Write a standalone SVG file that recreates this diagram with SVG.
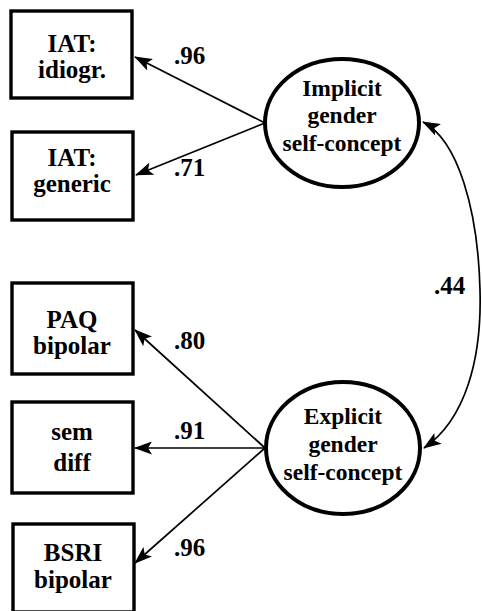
<svg xmlns="http://www.w3.org/2000/svg" width="482" height="611" viewBox="0 0 482 611">
<style>
.box{fill:#fff;stroke:#000;stroke-width:3.4}
.lat{fill:#fff;stroke:#000;stroke-width:4}
text{font-family:"Liberation Serif","Times New Roman",Times,serif;font-weight:bold;fill:#000;text-anchor:middle}
.bt{font-size:25px}
.et{font-size:23.5px}
.lb{font-size:25px;text-anchor:start}
.con{fill:none;stroke:#000;stroke-width:1.7}
</style>
<defs>
<marker id="ah" viewBox="0 0 18 13" refX="17" refY="6.5" markerWidth="18" markerHeight="13" markerUnits="userSpaceOnUse" orient="auto">
<path d="M0,0 L18,6.5 L0,13 L4,6.5 Z" fill="#000"/>
</marker>
<marker id="ahs" viewBox="0 0 18 13" refX="1" refY="6.5" markerWidth="18" markerHeight="13" markerUnits="userSpaceOnUse" orient="auto">
<path d="M18,0 L0,6.5 L18,13 L14,6.5 Z" fill="#000"/>
</marker>
</defs>
<rect width="482" height="611" fill="#fff"/>
<g id="connectors">
<line class="con" x1="265" y1="123" x2="135" y2="57" marker-end="url(#ah)"/>
<line class="con" x1="265" y1="123" x2="136" y2="175" marker-end="url(#ah)"/>
<line class="con" x1="265" y1="448" x2="135" y2="330" marker-end="url(#ah)"/>
<line class="con" x1="265" y1="448" x2="135" y2="448" marker-end="url(#ah)"/>
<line class="con" x1="265" y1="448" x2="135" y2="563" marker-end="url(#ah)"/>
<path class="con" d="M423,122 C458,140 478,210 480,290 C482,360 465,420 424,448" marker-start="url(#ahs)" marker-end="url(#ah)"/>
<text class="lb" x="174" y="64">.96</text>
<text class="lb" x="174" y="176">.71</text>
<text class="lb" x="174" y="349">.80</text>
<text class="lb" x="174" y="439">.91</text>
<text class="lb" x="174" y="556">.96</text>
<text class="lb" x="434" y="294">.44</text>
</g>
<g id="iat-idiogr">
<rect class="box" x="11" y="11" width="121" height="87"/>
<text class="bt" x="72" y="52">IAT:</text>
<text class="bt" x="72" y="78">idiogr.</text>
</g>
<g id="iat-generic">
<rect class="box" x="12" y="132" width="121" height="88"/>
<text class="bt" x="72" y="166">IAT:</text>
<text class="bt" x="72" y="192">generic</text>
</g>
<g id="paq-bipolar">
<rect class="box" x="12" y="283" width="121" height="91"/>
<text class="bt" x="72" y="328">PAQ</text>
<text class="bt" x="72" y="354">bipolar</text>
</g>
<g id="sem-diff">
<rect class="box" x="12" y="402" width="121" height="91"/>
<text class="bt" x="72" y="440">sem</text>
<text class="bt" x="72" y="471">diff</text>
</g>
<g id="bsri-bipolar">
<rect class="box" x="13" y="524" width="121" height="88"/>
<text class="bt" x="73" y="561">BSRI</text>
<text class="bt" x="73" y="588">bipolar</text>
</g>
<g id="implicit">
<ellipse class="lat" cx="342" cy="123" rx="77" ry="64"/>
<text class="et" x="342" y="96">Implicit</text>
<text class="et" x="342" y="123">gender</text>
<text class="et" x="342" y="151">self-concept</text>
</g>
<g id="explicit">
<ellipse class="lat" cx="343" cy="448" rx="77" ry="66"/>
<text class="et" x="343" y="424">Explicit</text>
<text class="et" x="343" y="452">gender</text>
<text class="et" x="343" y="480">self-concept</text>
</g>
</svg>
